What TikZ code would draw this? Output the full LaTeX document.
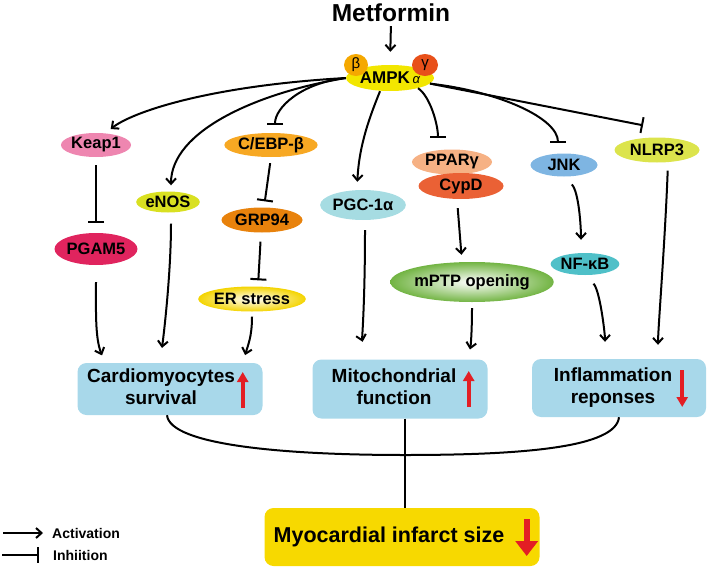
\documentclass[tikz,border=0pt]{standalone}
\usepackage{fontspec}
\setmainfont{Liberation Sans}
\usetikzlibrary{arrows.meta, calc, shapes.geometric}

\definecolor{ampkyel}{HTML}{F2E600}
\definecolor{betaor}{HTML}{F5A800}
\definecolor{gamred}{HTML}{E8501A}
\definecolor{keappink}{HTML}{EE86B0}
\definecolor{pgamred}{HTML}{E0245E}
\definecolor{enosgrn}{HTML}{D9E021}
\definecolor{cebpor}{HTML}{F7A823}
\definecolor{grpor}{HTML}{E8820C}
\definecolor{ersyel}{HTML}{F4D400}
\definecolor{pgcblue}{HTML}{A6DCE2}
\definecolor{pparor}{HTML}{F6B184}
\definecolor{cypdred}{HTML}{EA6135}
\definecolor{mptpgrn}{HTML}{72B443}
\definecolor{jnkblue}{HTML}{7EB5E2}
\definecolor{nfkbteal}{HTML}{4FC0C8}
\definecolor{nlrpgrn}{HTML}{DCE44C}
\definecolor{boxblue}{HTML}{A8D8EA}
\definecolor{myoyel}{HTML}{F7D900}
\definecolor{arrred}{HTML}{E31E24}

\begin{document}
\begin{tikzpicture}[x=1pt, y=-1pt,
  every node/.style={font=\bfseries},
  mol/.style={ellipse, inner sep=0pt, font=\fontsize{16.5}{19}\selectfont\bfseries},
  sub/.style={ellipse, inner sep=0pt, font=\fontsize{15}{17}\selectfont\normalfont},
  box/.style={rectangle, rounded corners=9pt, fill=boxblue, inner sep=0pt,
              font=\fontsize{19}{21.5}\selectfont\bfseries},
  legend/.style={anchor=west, inner sep=0pt, font=\fontsize{14}{16}\selectfont\bfseries},
  act/.style={-{Straight Barb[length=5.5pt,width=10pt]}, line width=2pt},
  inh/.style={-{Bar[width=16pt]}, line width=2pt},
  redarr/.style={-{Triangle[length=10pt,width=11pt]}, line width=3.6pt, draw=arrred},
]
  \useasboundingbox (0,0) rectangle (709,570);

  % top: drug and kinase
  \node[inner sep=0pt, font=\fontsize{24.5}{27}\selectfont\bfseries] (met) at (391,13) {Metformin};
  \node[ellipse, fill=ampkyel, inner sep=0pt, minimum width=88, minimum height=26,
        font=\fontsize{17}{19}\selectfont\bfseries] (ampk) at (390,78)
        {AMPK\,{\normalfont\itshape\fontsize{13}{15}\selectfont α}};
  \node[sub, fill=betaor, minimum width=24, minimum height=22] (subb) at (356,65) {β};
  \node[sub, fill=gamred, minimum width=26, minimum height=22] (subg) at (425,65) {γ};

  % molecules
  \node[mol, fill=keappink, minimum width=67, minimum height=24] (keap) at (96,145) {Keap1};
  \node[mol, fill=pgamred, minimum width=80, minimum height=32] (pgam) at (96,249) {PGAM5};
  \node[mol, fill=enosgrn, minimum width=59, minimum height=21] (enos) at (168,202) {eNOS};
  \node[mol, fill=cebpor, minimum width=81, minimum height=24] (cebp) at (271,145) {C/EBP-β};
  \node[mol, fill=grpor, minimum width=81, minimum height=25] (grp) at (262,220) {GRP94};
  \node[mol, shade, shading=radial, inner color=white, outer color=ersyel,
        minimum width=80, minimum height=25] (ers) at (252,299) {ER stress};
  \node[mol, fill=pgcblue, minimum width=82, minimum height=30] (pgc) at (363,205) {PGC-1α};
  \node[mol, fill=pparor, minimum width=80, minimum height=25] (ppar) at (452,162) {PPARγ};
  \node[mol, fill=cypdred, minimum width=85, minimum height=26] (cypd) at (461,186) {CypD};
  \node[mol, shade, shading=radial, inner color=white, outer color=mptpgrn,
        minimum width=145, minimum height=40] (mptp) at (472,282) {mPTP opening};
  \node[mol, fill=jnkblue, minimum width=67, minimum height=23] (jnk) at (564,165) {JNK};
  \node[mol, fill=nfkbteal, minimum width=67, minimum height=22] (nfkb) at (585,264) {NF-κB};
  \node[mol, fill=nlrpgrn, minimum width=85, minimum height=25] (nlrp) at (657,150) {NLRP3};

  % outcome boxes
  \node[box, minimum width=185, minimum height=52] (cardio) at (170,389)
        {\begin{tabular}{@{}c@{}}Cardiomyocytes\\survival\end{tabular}\kern18pt};
  \node[box, minimum width=175, minimum height=59] (mito) at (400,389)
        {\begin{tabular}{@{}c@{}}Mitochondrial\\function\end{tabular}\kern12pt};
  \node[box, minimum width=174, minimum height=58] (inflam) at (619,388)
        {\begin{tabular}{@{}c@{}}Inflammation\\reponses\end{tabular}\kern12pt};
  \node[box, fill=myoyel, minimum width=275, minimum height=58,
        font=\fontsize{21.5}{24}\selectfont\bfseries] (myo) at (402,537)
        {Myocardial infarct size\kern26pt};

  \draw[redarr] ($(cardio.east)+(-20,19)$) -- ($(cardio.east)+(-20,-17)$);
  \draw[redarr] ($(mito.east)+(-19,18)$) -- ($(mito.east)+(-19,-18)$);
  \draw[redarr] ($(inflam.east)+(-24,-18)$) -- ($(inflam.east)+(-24,19)$);
  \draw[redarr, line width=6pt, -{Triangle[length=15pt,width=22pt]}]
        ($(myo.east)+(-13,-18)$) -- ($(myo.east)+(-13,19)$);

  % AMPK to its targets
  \draw[act, shorten <=4, shorten >=13] (met.south) -- (ampk.north);
  \draw[act, shorten >=6] (ampk.west) .. controls +(-140,8) and +(25,-20) .. ([xshift=10]keap.north);
  \draw[act, shorten >=6] (ampk.west) .. controls +(-90,15) and +(0,-60) .. ([xshift=3]enos.north);
  \draw[inh, shorten >=8] (ampk.west) .. controls +(-45,5) and +(0,-25) .. ([xshift=4]cebp.north);
  \draw[act, shorten >=8] ([xshift=-10]ampk.south) .. controls +(-10,25) and +(2,-45) .. ([xshift=-6]pgc.north);
  \draw[inh, shorten >=11] (ampk.-20) .. controls +(12,8) and +(0,-25) .. ([xshift=-14]ppar.north);
  \draw[inh, shorten >=10] (ampk.-8) .. controls +(70,8) and +(0,-35) .. ([xshift=-6]jnk.north);
  \draw[inh] (ampk.-8) -- ($(nlrp.north)+(-14,-12)$);

  % second level
  \draw[inh, shorten <=8, shorten >=10] (keap.south) -- (pgam.north);
  \draw[inh, shorten <=6, shorten >=6] (cebp.south) -- ([xshift=2]grp.north);
  \draw[inh, shorten <=9, shorten >=6] ([xshift=-1]grp.south) -- ([xshift=6]ers.north);
  \draw[act, shorten <=9, shorten >=7] ([xshift=-4]cypd.south) -- ([xshift=-10]mptp.north);
  \draw[act, shorten <=11, shorten >=13] (jnk.south) .. controls +(15,15) and +(0,-25) .. ([xshift=-4]nfkb.north);

  % into the outcome boxes
  \draw[act, shorten <=17, shorten >=8] (pgam.south) .. controls +(0,45) and +(-10,-25) .. ([xshift=-65]cardio.north);
  \draw[act, shorten <=11, shorten >=15] ([xshift=3]enos.south) .. controls +(0,60) and +(4,-30) .. ([xshift=-10]cardio.north);
  \draw[act, shorten <=5, shorten >=8] (ers.south) .. controls +(0,25) and +(5,-18) .. ([xshift=73]cardio.north);
  \draw[act, shorten <=10, shorten >=18] ([xshift=2]pgc.south) .. controls +(0,80) and +(-5,-20) .. ([xshift=-33]mito.north);
  \draw[act, shorten <=6, shorten >=10] (mptp.south) .. controls +(0,25) and +(3,-15) .. ([xshift=68]mito.north);
  \draw[act, shorten <=12, shorten >=17] (nfkb.south) .. controls +(15,15) and +(0,-25) .. ([xshift=-14]inflam.north);
  \draw[act, shorten <=8, shorten >=14] ([xshift=11]nlrp.south) .. controls +(-3,80) and +(0,-30) .. ([xshift=39]inflam.north);

  % joining to the infarct size
  \coordinate (join) at (405,455);
  \draw[line width=2pt] ([xshift=-3]cardio.south) .. controls +(3,30) and +(-120,0) .. (join)
        .. controls +(120,0) and +(-3,30) .. (inflam.south);
  \draw[line width=2pt] (join |- mito.south) -- (join |- myo.north);

  % legend
  \node[legend] (actlbl) at (52,533) {Activation};
  \node[legend] (inhlbl) at (53,555) {Inhiition};
  \coordinate (acts) at (3,533);
  \coordinate (inhs) at (2,555);
  \draw[act] (acts) -- ([xshift=-9]actlbl.west);
  \draw[inh] (inhs) -- ([xshift=-14]inhlbl.west);
\end{tikzpicture}
\end{document}
